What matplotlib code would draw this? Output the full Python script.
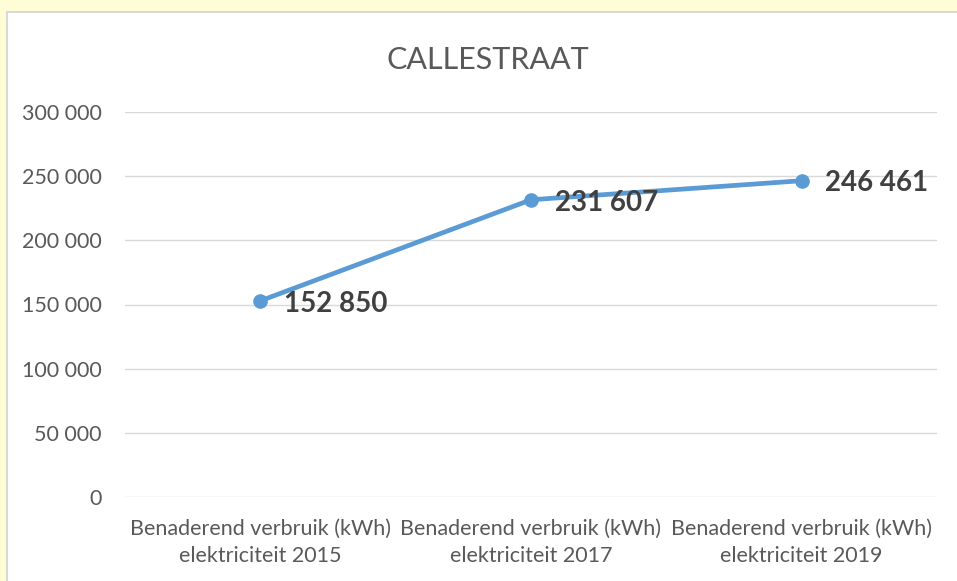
import matplotlib
matplotlib.use("Agg")
import matplotlib.pyplot as plt
from matplotlib.patches import Rectangle
from matplotlib.ticker import FuncFormatter

categories = ["Benaderend verbruik (kWh)\nelektriciteit 2015",
              "Benaderend verbruik (kWh)\nelektriciteit 2017",
              "Benaderend verbruik (kWh)\nelektriciteit 2019"]
values = [152850, 231607, 246461]
yticks = [0, 50000, 100000, 150000, 200000, 250000, 300000]
title = "CALLESTRAAT"

W, H = 957, 581
fig = plt.figure(figsize=(W / 100, H / 100), dpi=100)
fig.patch.set_facecolor("white")

# yellowish background strips and white chart frame
bg = fig.add_axes([0, 0, 1, 1], zorder=-10)
bg.set_xlim(0, W); bg.set_ylim(H, 0); bg.axis("off")
bg.add_patch(Rectangle((0, 0), W, H, facecolor="#FEFDD6", edgecolor="none"))
bg.add_patch(Rectangle((7, 12), W + 50, H + 50, facecolor="white", edgecolor="#D9D9D9", linewidth=1.5))

font = "Lato"
gray = "#595959"

ax = fig.add_axes([125 / W, 1 - 497 / H, (937 - 125) / W, (497 - 112) / H])
ax.set_facecolor("none")
x = list(range(len(categories)))
ax.plot(x, values, color="#5B9BD5", linewidth=3.4, marker="o", markersize=9.5, zorder=3,
        solid_capstyle="round")
for xi, v in zip(x, values):
    ax.annotate(f"{v:,}".replace(",", " "), (xi, v), xytext=(17, -2), textcoords="offset points",
                ha="left", va="center", fontsize=20, fontweight="bold", color="#404040",
                family=font, zorder=4)

ax.set_xlim(-0.5, len(categories) - 0.5)
ax.set_ylim(0, 300000)
ax.set_yticks(yticks)
ax.yaxis.set_major_formatter(FuncFormatter(lambda v, p: f"{int(v):,}".replace(",", " ")))
ax.set_xticks(x)
ax.set_xticklabels(categories)
ax.grid(axis="y", color="#D9D9D9", linewidth=1)
ax.set_axisbelow(True)
for s in ax.spines.values():
    s.set_visible(False)
ax.tick_params(axis="both", length=0, colors=gray, labelsize=15.5)
ax.tick_params(axis="y", pad=17)
ax.tick_params(axis="x", pad=16)
for lab in ax.get_xticklabels() + ax.get_yticklabels():
    lab.set_family(font)
    lab.set_color(gray)
for lab in ax.get_xticklabels():
    lab.set_linespacing(1.45)

fig.text(488 / W, 1 - 60 / H, title, ha="center", va="center", fontsize=22,
         color=gray, family=font)

fig.savefig("out.png", dpi=100)
